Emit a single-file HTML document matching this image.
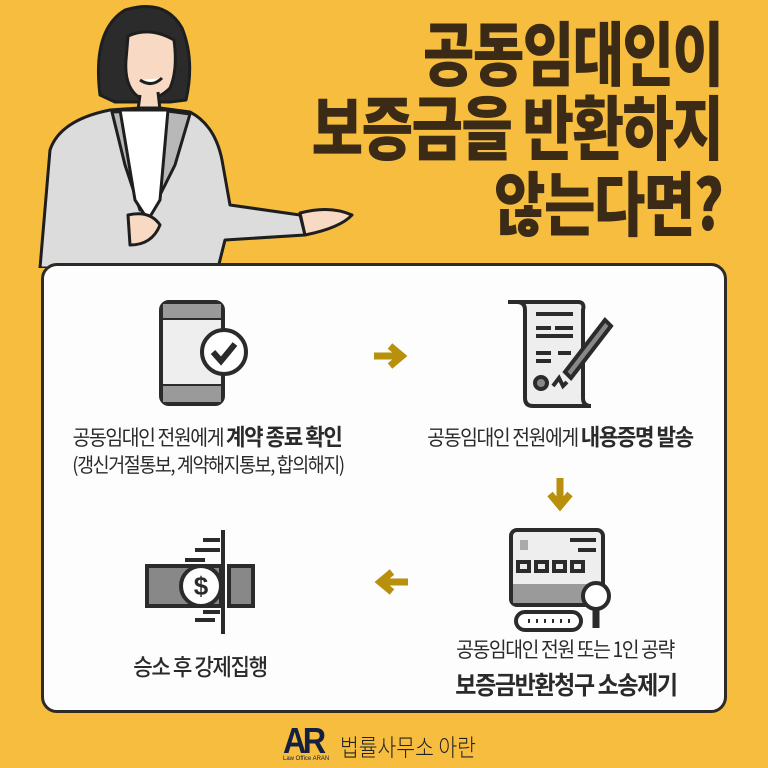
<!DOCTYPE html>
<html><head><meta charset="utf-8">
<style>
*{margin:0;padding:0;box-sizing:border-box}
body{width:768px;height:768px;background:#f6bd3f;position:relative;overflow:hidden;font-family:"Liberation Sans","Noto Sans CJK KR",sans-serif}
.t{position:absolute;right:46px;color:#3b2b16;font-family:"Noto Sans CJK KR",sans-serif;font-weight:900;font-size:70px;line-height:70px;transform:scaleX(.8);transform-origin:right center;white-space:nowrap;letter-spacing:-2px}
.panel{position:absolute;left:41px;top:263px;width:686px;height:450px;background:#fdfdfd;border:3px solid #2e2a26;border-radius:16px}
.lb{position:absolute;color:#2a2a2a;font-family:"Noto Sans CJK KR",sans-serif;white-space:nowrap;transform:translateX(-50%) scaleX(.92);font-size:21px;letter-spacing:-1.5px}
.lb b{font-weight:700;font-size:23px}
svg{position:absolute}
</style></head><body>
<div class="t" style="top:16px">공동임대인이</div>
<div class="t" style="top:90px">보증금을 반환하지</div>
<div class="t" style="top:166px">않는다면?</div>

<svg style="left:0;top:0" width="360" height="268" viewBox="0 0 360 268">
<g stroke="#1e1e1e" stroke-width="3" stroke-linejoin="round">
<path d="M100 95 Q92 30 125 10 Q165 -2 182 28 Q195 60 186 100 L170 102 L115 102 Z" fill="#2b2b2b"/>
<path d="M128 36 Q150 26 174 40 Q178 70 170 88 Q156 102 140 98 Q124 88 126 60 Z" fill="#f7d9c4"/>
<path d="M140 95 L138 110 L160 110 L158 92" fill="#f7d9c4"/>
<path d="M40 268 L50 150 Q60 120 110 110 L140 108 L160 108 L190 112 Q215 125 222 160 L230 205 L300 215 L305 235 L225 240 L218 268 Z" fill="#dcdcdc"/>
<path d="M112 112 L125 165 L140 210 L160 110 Z" fill="#b8b8b8"/>
<path d="M190 114 L175 165 L150 215 L160 110 Z" fill="#b8b8b8"/>
<path d="M120 110 L135 200 L148 220 L160 200 L168 110 Z" fill="#fff"/>
<path d="M300 213 Q330 205 352 215 Q340 228 305 235 Z" fill="#f7d9c4"/>
<path d="M128 215 Q150 210 160 225 Q152 245 130 245 Z" fill="#f7d9c4"/>
<path d="M140 80 Q152 88 162 78" fill="#fff"/>
</g></svg>

<div class="panel"></div>

<svg style="left:158px;top:300px" width="92" height="108" viewBox="0 0 92 108" fill="none" stroke="#2b2b2b" stroke-width="4">
<rect x="3" y="2" width="62" height="102" rx="8" fill="#eee"/>
<path d="M5 18 H63 M5 86 H63"/>
<rect x="5" y="4" width="58" height="14" fill="#9a9a9a" stroke="none"/>
<rect x="5" y="86" width="58" height="16" fill="#9a9a9a" stroke="none"/>
<circle cx="66" cy="52" r="22" fill="#fff"/>
<path d="M55 52 L63 61 L77 44" stroke-width="6"/>
</svg>
<svg style="left:503px;top:298px" width="115" height="112" viewBox="0 0 115 112" fill="none" stroke="#2b2b2b" stroke-width="4">
<path d="M5 4 H75 Q82 4 80 12 V100 Q80 108 88 108 H30 Q22 108 22 100 V12 Q22 4 14 4 Z" fill="#eee"/>
<path d="M33 16 H70 M33 30 H48 M52 30 H70 M33 38 H70 M33 55 H48 M55 55 H68 M33 63 H48"/>
<circle cx="38" cy="85" r="6" fill="#888"/>
<path d="M62 74 L102 22 L108 28 L68 80 Z" fill="#888"/>
<path d="M50 88 L56 80 L60 88 L64 84"/>
</svg>
<svg style="left:508px;top:528px" width="105" height="108" viewBox="0 0 105 108" fill="none" stroke="#2b2b2b" stroke-width="4">
<rect x="3" y="2" width="92" height="75" rx="6" fill="#eee"/>
<rect x="5" y="56" width="88" height="19" fill="#9a9a9a" stroke="none"/>
<rect x="12" y="12" width="8" height="10" fill="#aaa" stroke="none"/>
<rect x="10" y="34" width="11" height="9"/><rect x="28" y="34" width="11" height="9"/><rect x="46" y="34" width="11" height="9"/><rect x="64" y="34" width="11" height="9"/>
<path d="M62 12 H88 M70 22 H88"/>
<rect x="8" y="84" width="65" height="18" rx="9" fill="#fff"/>
<path d="M20 93 h2 M28 93 h2 M36 93 h2 M44 93 h2 M52 93 h2 M60 93 h2" stroke-width="4"/>
<circle cx="88" cy="68" r="13" fill="#fff"/>
<path d="M88 81 V100" stroke-width="7"/>
</svg>
<svg style="left:145px;top:528px" width="112" height="108" viewBox="0 0 112 108" fill="none" stroke="#2b2b2b" stroke-width="4">
<path d="M78 2 V106 M58 12 H75 M50 22 H75 M40 32 H60 M58 84 H75 M50 92 H70"/>
<rect x="2" y="38" width="74" height="40" fill="#888"/>
<rect x="84" y="38" width="24" height="40" fill="#888"/>
<circle cx="56" cy="58" r="20" fill="#fff"/>
<text x="56" y="67" font-size="26" text-anchor="middle" fill="#2b2b2b" stroke="none" font-weight="700" font-family="Liberation Sans">$</text>
</svg>

<svg style="left:372px;top:342px" width="36" height="28" viewBox="0 0 36 28"><path d="M2 14 H26 M18 4 L30 14 L18 24" stroke="#b8900c" stroke-width="7" fill="none"/></svg>
<svg style="left:546px;top:478px" width="28" height="34" viewBox="0 0 28 34"><path d="M14 0 V24 M4 16 L14 28 L24 16" stroke="#b8900c" stroke-width="7" fill="none"/></svg>
<svg style="left:374px;top:568px" width="36" height="28" viewBox="0 0 36 28"><path d="M34 14 H10 M18 4 L6 14 L18 24" stroke="#b8900c" stroke-width="7" fill="none"/></svg>

<div class="lb" style="left:207px;top:418px">공동임대인 전원에게 <b>계약 종료 확인</b></div>
<div class="lb" style="left:208px;top:449px;font-size:20px">(갱신거절통보, 계약해지통보, 합의해지)</div>
<div class="lb" style="left:560px;top:418px">공동임대인 전원에게 <b>내용증명 발송</b></div>
<div class="lb" style="left:200px;top:648px"><b style="font-weight:500">승소 후 강제집행</b></div>
<div class="lb" style="left:565px;top:634px">공동임대인 전원 또는 1인 공략</div>
<div class="lb" style="left:566px;top:666px"><b style="font-size:25px">보증금반환청구 소송제기</b></div>

<div style="position:absolute;left:283px;top:720px;color:#142040;font-family:'Liberation Sans',sans-serif;font-weight:700;font-size:36px;letter-spacing:-4px;transform:scaleX(.9);transform-origin:left">AR</div>
<div style="position:absolute;left:283px;top:756px;font-size:6px;color:#142040;font-family:'Liberation Sans',sans-serif">Law Office ARAN</div>
<div style="position:absolute;left:340px;top:728px;font-size:24px;color:#222;font-family:'Noto Sans CJK KR',sans-serif;font-weight:300;transform:scaleX(.85);transform-origin:left;white-space:nowrap">법률사무소 아란</div>
</body></html>
